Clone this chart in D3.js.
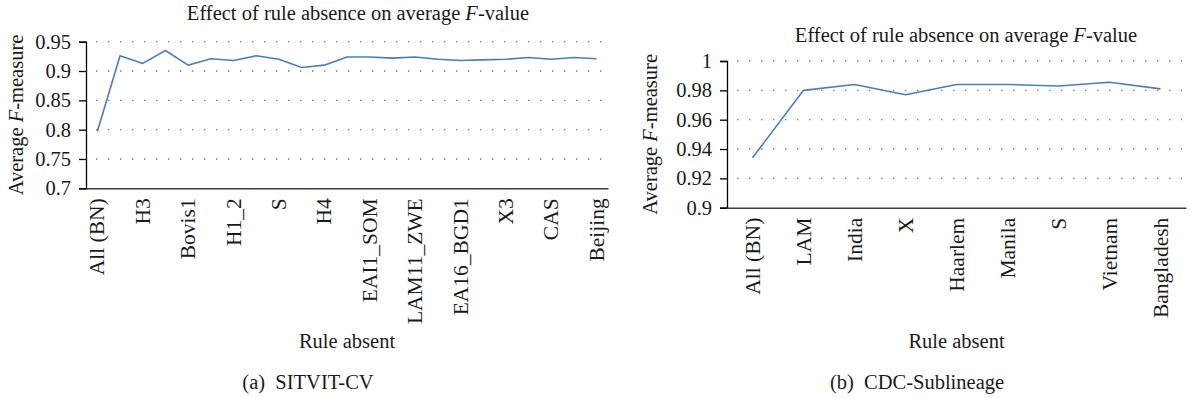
<!DOCTYPE html>
<html>
<head>
<meta charset="utf-8">
<script src="https://cdn.jsdelivr.net/npm/d3@7"></script>
<style>
  html, body { margin: 0; padding: 0; background: #fff; }
  text { font-family: "Liberation Serif", "Times New Roman", serif; fill: #1a1a1a; }
</style>
</head>
<body>
<div id="chart"></div>
<script>
// (a) SITVIT-CV: 23 rules, only every other one is labelled on the axis
const sitvitValues = [0.797, 0.926, 0.913, 0.935, 0.910, 0.921, 0.918, 0.926, 0.920, 0.906, 0.910, 0.924,
    0.924, 0.922, 0.924, 0.920, 0.918, 0.919, 0.920, 0.923, 0.920, 0.923, 0.921];
const sitvitTickLabels = ["All (BN)", "H3", "Bovis1", "H1_2", "S", "H4", "EAI1_SOM", "LAM11_ZWE",
    "EA16_BGD1", "X3", "CAS", "Beijing"];
const sitvitYTicks = [0.7, 0.75, 0.8, 0.85, 0.9, 0.95];

// (b) CDC-Sublineage
const cdcCategories = ["All (BN)", "LAM", "India", "X", "Haarlem", "Manila", "S", "Vietnam", "Bangladesh"];
const cdcValues = [0.934, 0.980, 0.984, 0.977, 0.984, 0.984, 0.983, 0.9855, 0.981];
const cdcYTicks = [0.9, 0.92, 0.94, 0.96, 0.98, 1];

const W = 1194, H = 398;
const FS = 20.5;
const XFS = 21.5; // rotated category labels run a little longer in the original

const svg = d3.select("#chart").append("svg")
    .attr("width", W)
    .attr("height", H)
    .style("display", "block");

function drawPanel(cfg) {
    const g = svg.append("g");

    const x = d3.scaleBand()
        .domain(cfg.values.map((d, i) => i))
        .range([cfg.left, cfg.right]);
    const y = d3.scaleLinear()
        .domain(cfg.yDomain)
        .range([cfg.bottom, cfg.top]);
    const cx = i => x(i) + x.bandwidth() / 2;

    // dotted gridlines
    g.selectAll("line.grid")
        .data(cfg.yTicks.slice(1))
        .enter()
        .append("line")
        .attr("class", "grid")
        .attr("x1", cfg.left + 10)
        .attr("x2", cfg.right - 4)
        .attr("y1", d => y(d))
        .attr("y2", d => y(d))
        .attr("stroke", "#7a7a7a")
        .attr("stroke-width", 1.3)
        .attr("stroke-dasharray", "1.4,10.6");

    // y axis
    const yAxis = g.append("g")
        .attr("transform", "translate(" + cfg.left + ",0)")
        .call(d3.axisLeft(y).tickValues(cfg.yTicks).tickSize(7).tickPadding(8).tickFormat(d3.format("")));
    yAxis.select(".domain").attr("stroke", "#000").attr("stroke-width", 1.3);
    yAxis.selectAll(".tick line").attr("stroke", "#000").attr("stroke-width", 1.3);
    yAxis.selectAll("text")
        .style("font-size", FS + "px")
        .attr("fill", "#1a1a1a");

    // x axis, labels rotated
    const xAxis = g.append("g")
        .attr("transform", "translate(0," + cfg.bottom + ")")
        .call(d3.axisBottom(x).tickValues(cfg.tickIdx).tickSize(0).tickFormat(cfg.tickFormat));
    xAxis.select(".domain").attr("stroke", "#3a3a3a").attr("stroke-width", 1.6);
    xAxis.selectAll(".tick")
        .attr("transform", d => "translate(" + cx(d) + ",0)");
    xAxis.selectAll("text")
        .attr("transform", "rotate(-90)")
        .attr("x", -10)
        .attr("y", 0)
        .attr("dy", "0.33em")
        .style("text-anchor", "end")
        .style("font-size", XFS + "px")
        .attr("fill", "#1a1a1a");

    // line
    const line = d3.line()
        .x((d, i) => cx(i))
        .y(d => y(d));
    g.append("path")
        .datum(cfg.values)
        .attr("fill", "none")
        .attr("stroke", "#4a7ebb")
        .attr("stroke-width", 1.6)
        .attr("stroke-linejoin", "round")
        .attr("d", line);

    // title
    const title = g.append("text")
        .attr("x", cfg.titleX)
        .attr("y", cfg.titleY)
        .attr("text-anchor", "middle")
        .style("font-size", FS + "px");
    title.append("tspan").text("Effect of rule absence on average ");
    title.append("tspan").style("font-style", "italic").text("F");
    title.append("tspan").text("-value");

    // y label
    const yl = g.append("text")
        .attr("transform", "translate(" + cfg.yLabelX + "," + ((cfg.top + cfg.bottom) / 2) + ")rotate(-90)")
        .attr("text-anchor", "middle")
        .style("font-size", FS + "px");
    yl.append("tspan").text("Average ");
    yl.append("tspan").style("font-style", "italic").text("F");
    yl.append("tspan").text("-measure");

    // x label
    g.append("text")
        .attr("x", (cfg.left + cfg.right) / 2)
        .attr("y", 348)
        .attr("text-anchor", "middle")
        .style("font-size", FS + "px")
        .text("Rule absent");

    // caption
    g.append("text")
        .attr("x", cfg.captionX)
        .attr("y", 389)
        .attr("text-anchor", "middle")
        .style("font-size", FS + "px")
        .attr("xml:space", "preserve")
        .text(cfg.caption);
}

drawPanel({
    values: sitvitValues,
    tickIdx: sitvitValues.map((d, i) => i).filter(i => i % 2 === 0),
    tickFormat: i => sitvitTickLabels[i / 2],
    yDomain: [0.7, 0.95],
    yTicks: sitvitYTicks,
    left: 86, right: 608, top: 41.7, bottom: 188.3,
    titleX: 358, titleY: 20,
    yLabelX: 23,
    captionX: 308,
    caption: "(a)  SITVIT-CV"
});

drawPanel({
    values: cdcValues,
    tickIdx: cdcValues.map((d, i) => i),
    tickFormat: i => cdcCategories[i],
    yDomain: [0.9, 1],
    yTicks: cdcYTicks,
    left: 727, right: 1186, top: 61, bottom: 207.7,
    titleX: 966, titleY: 41.5,
    yLabelX: 657,
    captionX: 917,
    caption: "(b)  CDC-Sublineage"
});
</script>
</body>
</html>
